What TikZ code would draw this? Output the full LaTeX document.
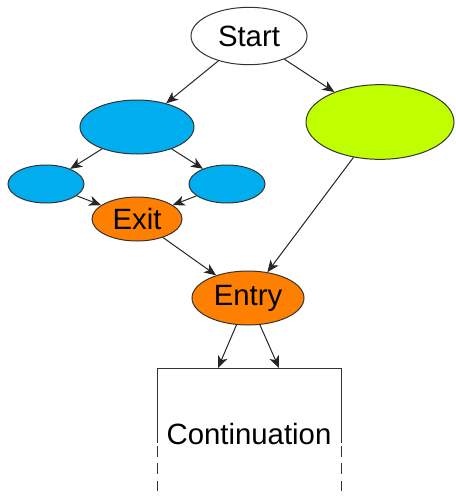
\documentclass[tikz,border=0pt]{standalone}
\usepackage{fontspec}
\setmainfont{Liberation Sans}
\usetikzlibrary{shapes.geometric,arrows.meta}

\definecolor{blockblue}{RGB}{0,174,239}
\definecolor{blockorange}{RGB}{255,128,0}
\definecolor{blockgreen}{RGB}{191,255,0}

\begin{document}
\begin{tikzpicture}[x=0.75pt,y=-0.75pt,line width=0.75pt,
    block/.style = {ellipse,draw=black!80,inner sep=0pt},
    arr/.style = {-{Stealth[length=9pt,width=7.5pt,inset=2.5pt]},black!85},
    lbl/.style = {font=\fontsize{22}{26}\selectfont}]

        \useasboundingbox (0,0) rectangle (456,496);

        % Start
        \node [block,fill=white,minimum width=87pt,minimum height=43pt,lbl] (start) at (249,36){Start};

        % Left branch
        \node [block,fill=blockblue,minimum width=85.5pt,minimum height=40.5pt] (split) at (137,127){};
        \node [block,fill=blockblue,minimum width=57pt,minimum height=28.5pt] (left) at (46,184){};
        \node [block,fill=blockblue,minimum width=57pt,minimum height=28.5pt] (right) at (227,184){};
        \node [block,fill=blockorange,minimum width=67.5pt,minimum height=33pt,lbl] (exit) at (137,219){Exit};

        % Right branch
        \node [block,fill=blockgreen,minimum width=111pt,minimum height=56pt] (other) at (380,122){};

        % Entry
        \node [block,fill=blockorange,minimum width=84pt,minimum height=40.5pt,lbl] (entry) at (248,298){Entry};

        % Continuation box, open at the bottom
        \coordinate (boxtl) at (157,368);
        \coordinate (boxtr) at (341,368);
        \coordinate (in1) at (218,368);
        \coordinate (in2) at (279,368);
        \draw[black!80] (157,443) -- (boxtl) -- (boxtr) -- (341,443);
        \draw[black!80,dash pattern=on 8pt off 5pt] (157,446) -- (157,496);
        \draw[black!80,dash pattern=on 8pt off 5pt] (341,446) -- (341,496);
        \node [lbl] (cont) at (249,434){Continuation};

        % Connectors
        \draw[arr] (start) -- (split);
        \draw[arr] (start) -- (other);
        \draw[arr] (split) -- (left);
        \draw[arr] (split) -- (right);
        \draw[arr] (left) -- (exit);
        \draw[arr] (right) -- (exit);
        \draw[arr] (exit) -- (entry);
        \draw[arr] (other) -- (entry);
        \draw[arr] (entry) -- (in1);
        \draw[arr] (entry) -- (in2);

    \end{tikzpicture}
\end{document}
